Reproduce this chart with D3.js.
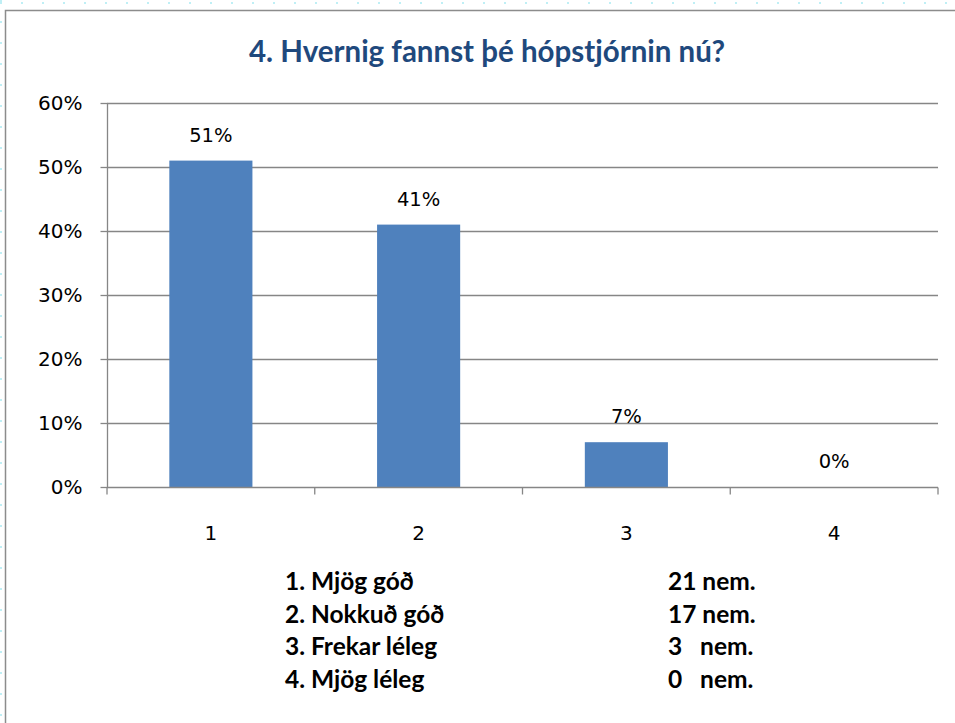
<!DOCTYPE html>
<html>
<head>
<meta charset="utf-8">
<script src="https://cdn.jsdelivr.net/npm/d3@7"></script>
<style>
  body { margin: 0; background: #fff; }
  svg { display: block; }
</style>
</head>
<body>
<div id="chart"></div>
<script>
const width = 955;
const height = 723;

// data
const categories = ["1", "2", "3", "4"];
const values = [51, 41, 7, 0];
const yTicks = [0, 10, 20, 30, 40, 50, 60];
const legendLabels = ["1. Mjög góð", "2. Nokkuð góð", "3. Frekar léleg", "4. Mjög léleg"];
const legendCounts = ["21 nem.", "17 nem.", "3   nem.", "0   nem."];
const title = "4. Hvernig fannst þé hópstjórnin nú?";

const plot = { left: 107, right: 938, top: 103, bottom: 487 };

const svg = d3.select("#chart").append("svg")
    .attr("width", width)
    .attr("height", height);

// dotted cyan page guides
svg.append("line")
    .attr("x1", 0).attr("x2", width).attr("y1", 3).attr("y2", 3)
    .attr("stroke", "#bfeff5").attr("stroke-width", 2)
    .attr("stroke-dasharray", "2 19");
svg.append("line")
    .attr("x1", 1).attr("x2", 1).attr("y1", 0).attr("y2", height)
    .attr("stroke", "#bfeff5").attr("stroke-width", 2)
    .attr("stroke-dasharray", "2 19");

// chart frame
svg.append("path")
    .attr("d", `M5.5,${height} V10.5 H${width}`)
    .attr("fill", "none")
    .attr("stroke", "#8c8c8c")
    .attr("stroke-width", 1.5);

svg.append("text")
    .attr("x", 487)
    .attr("y", 62)
    .attr("text-anchor", "middle")
    .attr("font-family", "Lato, 'Open Sans', sans-serif")
    .attr("font-weight", "bold")
    .attr("font-size", 29.5)
    .attr("fill", "#1f497d")
    .text(title);

const x = d3.scaleBand()
    .domain(categories)
    .range([plot.left, plot.right])
    .paddingInner(0.6)
    .paddingOuter(0.3);

const xBand = d3.scaleBand()
    .domain(categories)
    .range([plot.left, plot.right]);

const y = d3.scaleLinear()
    .domain([0, 60])
    .range([plot.bottom, plot.top]);

// gridlines
svg.append("g")
    .selectAll("line")
    .data(yTicks.filter(d => d > 0))
    .enter()
    .append("line")
    .attr("x1", plot.left)
    .attr("x2", plot.right)
    .attr("y1", d => Math.round(y(d)) + 0.5)
    .attr("y2", d => Math.round(y(d)) + 0.5)
    .attr("stroke", "#868686")
    .attr("stroke-width", 1.3);

// bars
svg.append("g")
    .selectAll("rect")
    .data(values)
    .enter()
    .append("rect")
    .attr("x", (d, i) => x(categories[i]))
    .attr("y", d => y(d))
    .attr("width", x.bandwidth())
    .attr("height", d => y(0) - y(d))
    .attr("fill", "#4f81bd");

// value labels
svg.append("g")
    .selectAll("text")
    .data(values)
    .enter()
    .append("text")
    .attr("x", (d, i) => x(categories[i]) + x.bandwidth() / 2)
    .attr("y", d => y(d) - 19)
    .attr("text-anchor", "middle")
    .attr("font-family", "'DejaVu Sans', sans-serif")
    .attr("font-size", 19.5)
    .attr("fill", "#000")
    .text(d => d + "%");

// y axis
const yAxis = svg.append("g")
    .attr("transform", `translate(${plot.left + 0.5},0)`)
    .call(d3.axisLeft(y)
        .tickValues(yTicks)
        .tickSize(7)
        .tickPadding(18)
        .tickFormat(d => d + "%"));
yAxis.select(".domain").attr("stroke", "#868686").attr("stroke-width", 1.3).attr("d", `M0,${plot.top}V${plot.bottom}`);
yAxis.selectAll(".tick line").attr("stroke", "#868686").attr("stroke-width", 1.3);
yAxis.selectAll(".tick text")
    .attr("font-family", "'DejaVu Sans', sans-serif")
    .attr("font-size", 20)
    .attr("fill", "#000");

// x axis
const xAxis = svg.append("g")
    .attr("transform", `translate(0,${plot.bottom + 0.5})`);
xAxis.append("line")
    .attr("x1", plot.left).attr("x2", plot.right)
    .attr("stroke", "#868686").attr("stroke-width", 1.3);
xAxis.selectAll(".xtick")
    .data(categories.concat(["end"]))
    .enter()
    .append("line")
    .attr("class", "xtick")
    .attr("x1", (d, i) => i < categories.length ? xBand(d) : plot.right)
    .attr("x2", (d, i) => i < categories.length ? xBand(d) : plot.right)
    .attr("y1", 0).attr("y2", 7)
    .attr("stroke", "#868686").attr("stroke-width", 1.3);
xAxis.selectAll("text")
    .data(categories)
    .enter()
    .append("text")
    .attr("x", d => xBand(d) + xBand.bandwidth() / 2)
    .attr("y", 52)
    .attr("text-anchor", "middle")
    .attr("font-family", "'DejaVu Sans', sans-serif")
    .attr("font-size", 20)
    .attr("fill", "#000")
    .text(d => d);

// legend text under the chart
const legend = svg.append("g")
    .attr("font-family", "Lato, 'Open Sans', sans-serif")
    .attr("font-weight", "bold")
    .attr("font-size", 24.5)
    .attr("fill", "#000");
legend.selectAll(".lab")
    .data(legendLabels)
    .enter()
    .append("text")
    .attr("class", "lab")
    .attr("x", 285)
    .attr("y", (d, i) => 590 + i * 32.7)
    .text(d => d);
legend.selectAll(".cnt")
    .data(legendCounts)
    .enter()
    .append("text")
    .attr("class", "cnt")
    .attr("x", 668)
    .attr("y", (d, i) => 590 + i * 32.7)
    .style("white-space", "pre")
    .text(d => d);
</script>
</body>
</html>
